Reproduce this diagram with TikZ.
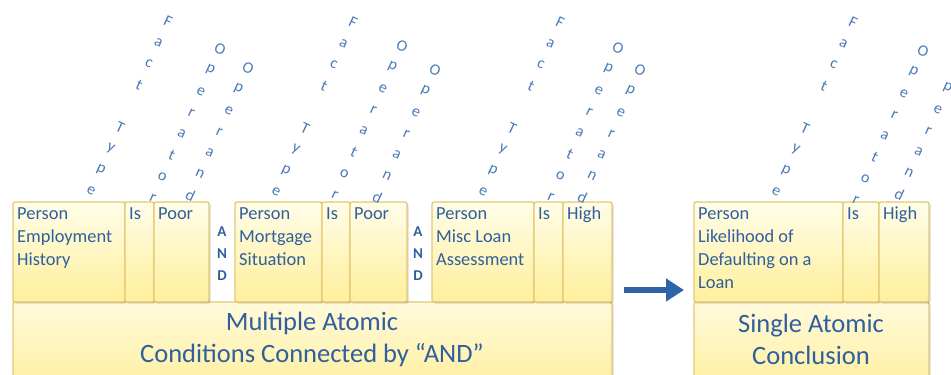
\documentclass[tikz,border=0pt]{standalone}
\usepackage{fontspec}
\setmainfont{Carlito}
\usetikzlibrary{arrows.meta,shadows}
\definecolor{cellborder}{HTML}{E3C874}
\definecolor{celltop}{HTML}{FFFDE8}
\definecolor{cellbot}{HTML}{FFEF9C}
\definecolor{basetop}{HTML}{FFFADC}
\definecolor{basebot}{HTML}{FFEE98}
\definecolor{textblue}{HTML}{2F5F9E}
\definecolor{letterblue}{HTML}{4A7BB8}
\definecolor{arrowblue}{HTML}{2F64A8}
\tikzset{
  cell/.style={draw=cellborder, line width=1.3pt, rounded corners=2pt,
    top color=celltop, bottom color=cellbot, anchor=north west,
    inner sep=0pt, outer sep=0pt, minimum height=100pt,
    drop shadow={shadow xshift=1.5pt, shadow yshift=-1.5pt, opacity=0.15, fill=black}},
  basecell/.style={cell, top color=basetop, bottom color=basebot, minimum height=95pt},
  ctext/.style={anchor=north west, inner sep=0pt, align=left, text=textblue,
    font=\fontsize{18.4}{23.3}\selectfont},
  btext/.style={inner sep=0pt, align=center, text=textblue,
    font=\fontsize{26.5}{32}\selectfont},
  andtxt/.style={inner sep=0pt, align=center, text=textblue,
    font=\fontsize{15}{22}\selectfont\bfseries},
  lt/.style={inner sep=0pt, rotate=-25, text=letterblue,
    font=\fontsize{16}{16}\selectfont},
  bigarrow/.style={-{Triangle[length=18pt,width=22pt]}, line width=6pt, draw=arrowblue}
}
\newcommand\wordstack[4]{%
  \foreach \ch [count=\i from 0] in {#4} {%
    \node[lt] (#1-\i) at ({#2-\i*9.6},{#3-2+\i*21.25}) {\ch};}}
\begin{document}
\begin{tikzpicture}[x=1pt,y=-1pt]
\useasboundingbox (0,0) rectangle (951,375);
\clip (0,0) rectangle (951,375);

% ---- bottom base boxes
\node[basecell, minimum width=599pt] (base1) at (13,302) {};
\node[basecell, minimum width=235pt] (base2) at (694,302) {};

% ---- group 1
\node[cell, minimum width=112pt] (p1) at (13,202) {};
\node[cell, minimum width=29pt] (i1) at (125,202) {};
\node[cell, minimum width=55pt] (v1) at (154,202) {};
% ---- group 2
\node[cell, minimum width=87pt] (p2) at (235,202) {};
\node[cell, minimum width=28pt] (i2) at (322,202) {};
\node[cell, minimum width=57pt] (v2) at (350,202) {};
% ---- group 3
\node[cell, minimum width=102pt] (p3) at (432,202) {};
\node[cell, minimum width=29pt] (i3) at (534,202) {};
\node[cell, minimum width=49pt] (v3) at (563,202) {};
% ---- conclusion
\node[cell, minimum width=149pt] (p4) at (694,202) {};
\node[cell, minimum width=36pt] (i4) at (843,202) {};
\node[cell, minimum width=50pt] (v4) at (879,202) {};

% ---- cell texts
\node[ctext] (tp1) at ([xshift=4pt,yshift=-5pt]p1.north west) {Person\\Employment\\History};
\node[ctext] (ti1) at ([xshift=4pt,yshift=-5pt]i1.north west) {Is};
\node[ctext] (tv1) at ([xshift=4pt,yshift=-5pt]v1.north west) {Poor};
\node[ctext] (tp2) at ([xshift=4pt,yshift=-5pt]p2.north west) {Person\\Mortgage\\Situation};
\node[ctext] (ti2) at ([xshift=4pt,yshift=-5pt]i2.north west) {Is};
\node[ctext] (tv2) at ([xshift=4pt,yshift=-5pt]v2.north west) {Poor};
\node[ctext] (tp3) at ([xshift=4pt,yshift=-5pt]p3.north west) {Person\\Misc Loan\\Assessment};
\node[ctext] (ti3) at ([xshift=4pt,yshift=-5pt]i3.north west) {Is};
\node[ctext] (tv3) at ([xshift=4pt,yshift=-5pt]v3.north west) {High};
\node[ctext] (tp4) at ([xshift=4pt,yshift=-5pt]p4.north west) {Person\\Likelihood of\\Defaulting on a\\Loan};
\node[ctext] (ti4) at ([xshift=4pt,yshift=-5pt]i4.north west) {Is};
\node[ctext] (tv4) at ([xshift=4pt,yshift=-5pt]v4.north west) {High};

% ---- base texts
\node[btext] (bt1) at (312,339) {Multiple Atomic\\Conditions Connected by “AND”};
\node[btext] (bt2) at (811,339) {Single Atomic\\Conclusion};

% ---- AND
\node[andtxt] (and1) at (222,254) {A\\N\\D};
\node[andtxt] (and2) at (418,254) {A\\N\\D};

% ---- arrow
\coordinate (arrS) at (624,290);
\coordinate (arrE) at (684,290);
\draw[bigarrow] (arrS) -- (arrE);

% ---- slanted labels
\wordstack{ft1}{168}{23}{F,a,c,t,{},T,y,p,e}
\wordstack{or1}{220}{51}{O,p,e,r,a,t,o,r}
\wordstack{od1}{248}{70}{O,p,e,r,a,n,d}
\wordstack{ft2}{353}{24}{F,a,c,t,{},T,y,p,e}
\wordstack{or2}{402}{48}{O,p,e,r,a,t,o,r}
\wordstack{od2}{435}{72}{O,p,e,r,a,n,d}
\wordstack{ft3}{560}{24}{F,a,c,t,{},T,y,p,e}
\wordstack{or3}{618}{50}{O,p,e,r,a,t,o,r}
\wordstack{od3}{640}{72}{O,p,e,r,a,n,d}
\wordstack{ft4}{853}{24}{F,a,c,t,{},T,y,p,e}
\wordstack{or4}{923}{53}{O,p,e,r,a,t,o,r}
\wordstack{od4}{957}{69}{O,p,e,r,a,n,d}
\end{tikzpicture}
\end{document}
